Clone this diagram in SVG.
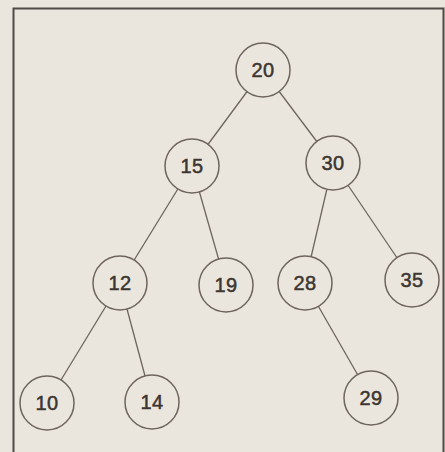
<svg xmlns="http://www.w3.org/2000/svg" width="445" height="452" viewBox="0 0 445 452">
<style>
.n circle{fill:#ebe6dd;stroke:#6e655d;stroke-width:1.5}
.n text{font-family:"Liberation Sans",Arial,sans-serif;font-size:20px;fill:#3b3631;stroke:#3b3631;stroke-width:0.5;text-anchor:middle;dominant-baseline:central;letter-spacing:0.5px}
.e line{stroke:#6e655d;stroke-width:1.3}
</style>
<rect x="0" y="0" width="445" height="452" fill="#ebe6dd"/>
<path d="M13.5 460 V8.5 H443.5 V460" fill="none" stroke="#4e4a46" stroke-width="2"/>
<g id="edges" class="e">
<line x1="263" y1="70" x2="192" y2="166"/>
<line x1="263" y1="70" x2="333" y2="163"/>
<line x1="192" y1="166" x2="120" y2="283"/>
<line x1="192" y1="166" x2="226" y2="285"/>
<line x1="333" y1="163" x2="305" y2="283"/>
<line x1="333" y1="163" x2="412" y2="280"/>
<line x1="120" y1="283" x2="47" y2="403"/>
<line x1="120" y1="283" x2="152" y2="402"/>
<line x1="305" y1="283" x2="371" y2="398"/>
</g>
<g id="n20" class="n"><circle cx="263" cy="70" r="27"/><text x="263" y="70">20</text></g>
<g id="n15" class="n"><circle cx="192" cy="166" r="27"/><text x="192" y="166">15</text></g>
<g id="n30" class="n"><circle cx="333" cy="163" r="27"/><text x="333" y="163">30</text></g>
<g id="n12" class="n"><circle cx="120" cy="283" r="27"/><text x="120" y="283">12</text></g>
<g id="n19" class="n"><circle cx="226" cy="285" r="27"/><text x="226" y="285">19</text></g>
<g id="n28" class="n"><circle cx="305" cy="283" r="27"/><text x="305" y="283">28</text></g>
<g id="n35" class="n"><circle cx="412" cy="280" r="27"/><text x="412" y="280">35</text></g>
<g id="n10" class="n"><circle cx="47" cy="403" r="27"/><text x="47" y="403">10</text></g>
<g id="n14" class="n"><circle cx="152" cy="402" r="27"/><text x="152" y="402">14</text></g>
<g id="n29" class="n"><circle cx="371" cy="398" r="27"/><text x="371" y="398">29</text></g>
</svg>
